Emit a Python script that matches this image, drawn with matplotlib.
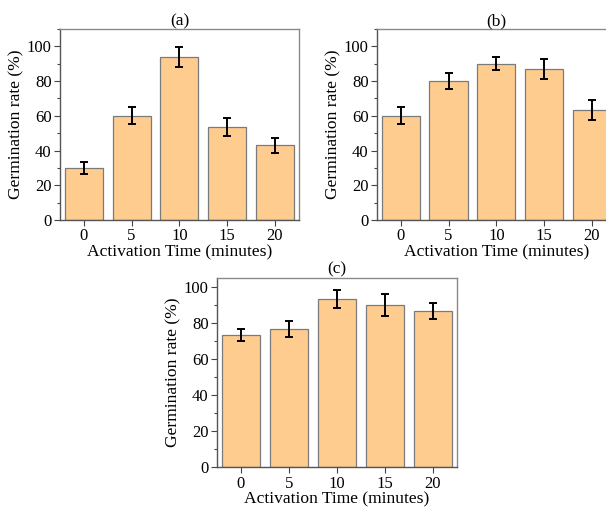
import matplotlib
matplotlib.use("Agg")
import matplotlib.pyplot as plt
from matplotlib.ticker import MultipleLocator
import numpy as np

# data
times = ["0", "5", "10", "15", "20"]
rate_a = [30.0, 60.0, 93.8, 53.5, 43.1]
err_a = [3.4, 5.0, 5.8, 5.1, 4.3]
rate_b = [60.0, 80.0, 90.0, 86.7, 63.3]
err_b = [5.0, 4.8, 3.6, 5.8, 5.8]
rate_c = [73.3, 76.7, 93.3, 90.0, 86.7]
err_c = [3.3, 4.6, 5.0, 6.3, 4.4]

plt.rcParams['font.family'] = ['Liberation Serif', 'DejaVu Serif']
plt.rcParams['font.size'] = 11

BAR = "#FFCC90"
EDGE = "#7a7a7a"

fig = plt.figure(figsize=(6.06, 5.08), dpi=100)


def panel(rect, vals, errs, title, ytop, xpad=0):
    ax = fig.add_axes(rect)
    x = np.arange(len(times))
    ax.bar(x, vals, width=0.8, color=BAR, edgecolor=EDGE, linewidth=0.9, zorder=2)
    ax.errorbar(x, vals, yerr=errs, fmt='none', ecolor='black', elinewidth=1.4,
                capsize=3, capthick=1.4, zorder=3)
    ax.set_xlim(-0.5, 4.5)
    ax.set_ylim(0, ytop)
    ax.set_xticks(x)
    ax.set_xticklabels(times)
    ax.set_yticks([0, 20, 40, 60, 80, 100])
    ax.yaxis.set_minor_locator(MultipleLocator(10))
    ax.tick_params(axis='both', which='major', direction='out', length=4,
                   width=0.8, color='#444444', labelsize=12, pad=2)
    ax.tick_params(axis='y', which='minor', direction='out', length=2,
                   width=0.8, color='#444444')
    for s in ['left', 'bottom']:
        ax.spines[s].set_color('#555555')
        ax.spines[s].set_linewidth(1.0)
    for s in ['top', 'right']:
        ax.spines[s].set_color('#8a8a8a')
        ax.spines[s].set_linewidth(1.0)
    ax.set_xlabel("Activation Time (minutes)", fontsize=12.6, labelpad=xpad)
    ax.set_ylabel("Germination rate (%)", fontsize=12.6, labelpad=2)
    ax.set_title(title, fontsize=12.5, pad=2)
    return ax


panel([0.099, 0.567, 0.394, 0.376], rate_a, err_a, "(a)", 110)
panel([0.622, 0.567, 0.394, 0.376], rate_b, err_b, "(b)", 110)
panel([0.358, 0.080, 0.396, 0.373], rate_c, err_c, "(c)", 105, xpad=0)

fig.savefig("out.png", dpi=100)
